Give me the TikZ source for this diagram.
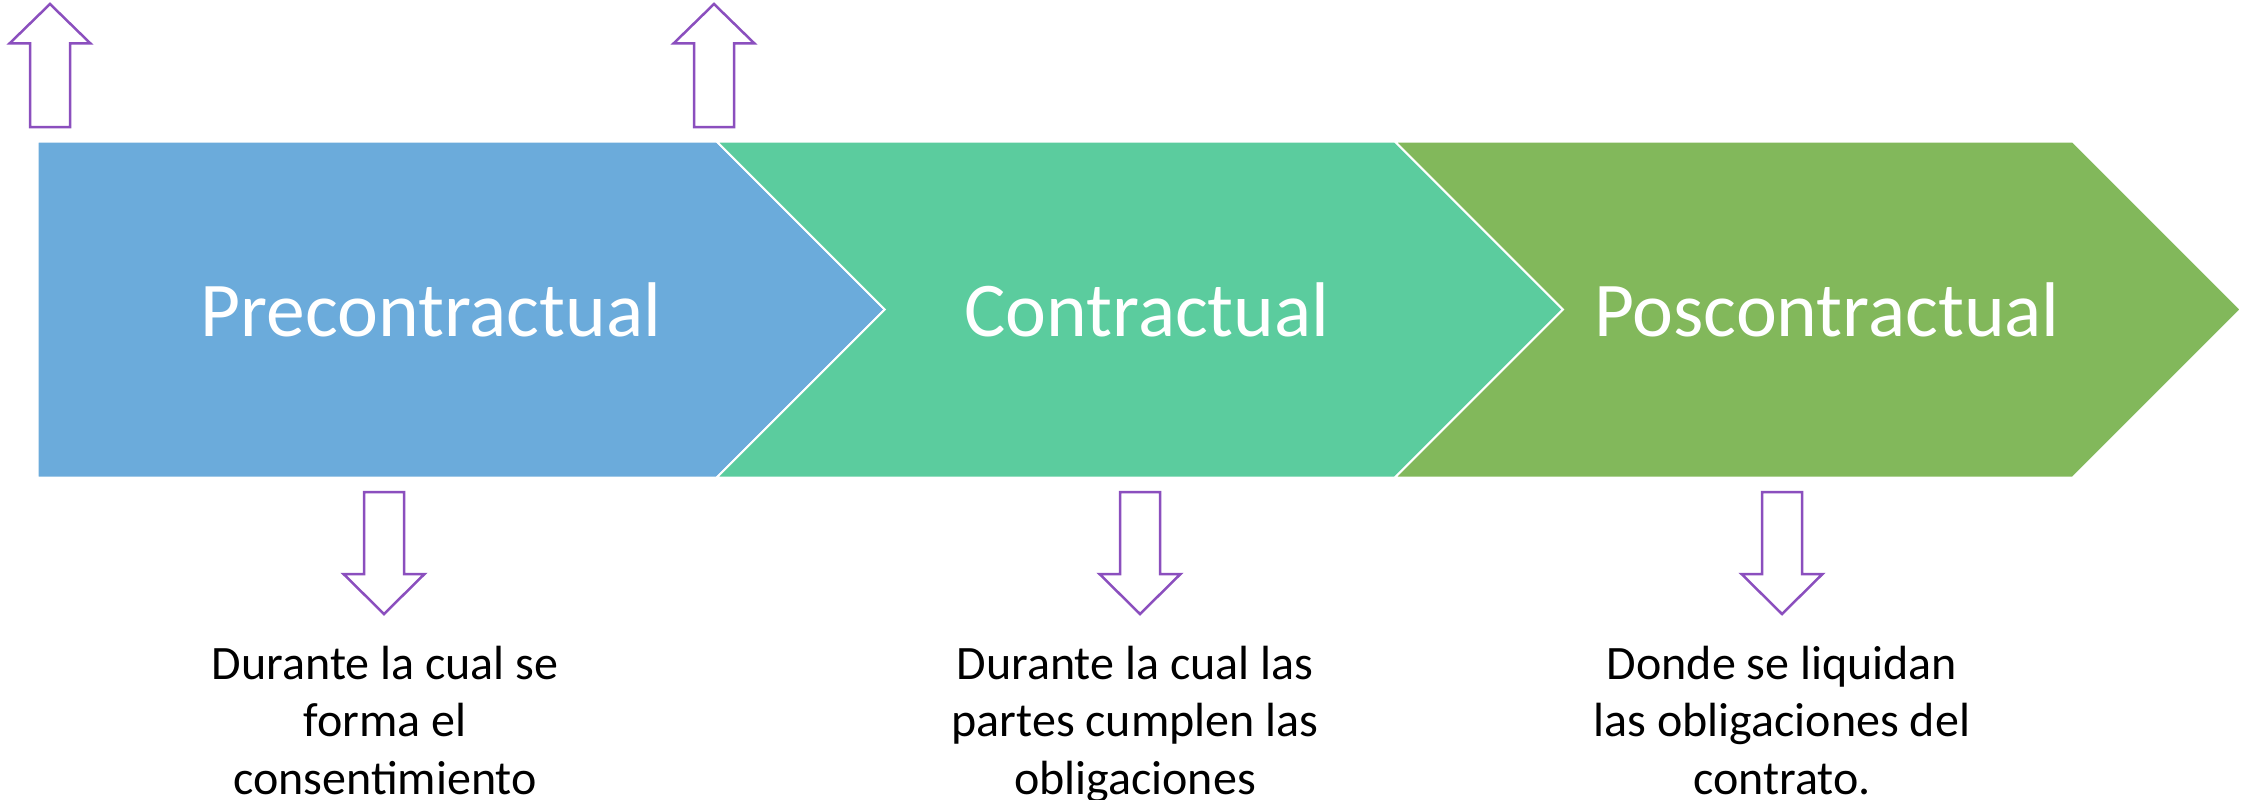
\documentclass[tikz,border=0pt]{standalone}
\usepackage{fontspec}
\setmainfont{Carlito}
\definecolor{cblue}{HTML}{6BABDB}
\definecolor{cgreen}{HTML}{5BCC9E}
\definecolor{colive}{HTML}{82B85B}
\definecolor{cpurple}{HTML}{8B4FBE}
\tikzset{
  phase/.style={draw=white, line width=2pt, line join=miter},
  blockarrow/.style={draw=cpurple, fill=white, line width=2.5pt, line join=miter},
  phaselabel/.style={text=white, font=\fontsize{77.5}{93}\selectfont, anchor=base, inner sep=0pt},
  desc/.style={text=black, font=\fontsize{48}{57.5}\selectfont, align=center, anchor=base, inner sep=0pt}
}
\begin{document}
\begin{tikzpicture}[x=1pt, y=-1pt]
\useasboundingbox (0,0) rectangle (2259,800);
% phases
\path[phase, fill=cblue] (37.5,141.5) -- (716.7,141.5) -- (884.7,309.5) -- (716.7,477.5) -- (37.5,477.5) -- cycle;
\path[phase, fill=cgreen] (716.7,141.5) -- (1395,141.5) -- (1563,309.5) -- (1395,477.5) -- (716.7,477.5) -- (884.7,309.5) -- cycle;
\path[phase, fill=colive] (1395,141.5) -- (2072.7,141.5) -- (2240.7,309.5) -- (2072.7,477.5) -- (1395,477.5) -- (1563,309.5) -- cycle;
\node[phaselabel] (p1) at (431,336) {Precontractual};
\node[phaselabel] (p2) at (1147,336) {Contractual};
\node[phaselabel] (p3) at (1827,336) {Poscontractual};
% up arrows
\foreach \cx in {50,714}{
  \path[blockarrow] (\cx,4) -- (\cx+40.5,43.5) -- (\cx+20,43.5) -- (\cx+20,127) -- (\cx-20,127) -- (\cx-20,43.5) -- (\cx-40.5,43.5) -- cycle;
}
% down arrows
\foreach \cx in {384,1140,1782}{
  \path[blockarrow] (\cx,614) -- (\cx+40.5,574) -- (\cx+20,574) -- (\cx+20,492) -- (\cx-20,492) -- (\cx-20,574) -- (\cx-40.5,574) -- cycle;
}
% descriptions (anchor = baseline of last line)
\node[desc] (d1) at (385,794) {Durante la cual se\\forma el\\consentimiento};
\node[desc] (d2) at (1135,794) {Durante la cual las\\partes cumplen las\\obligaciones};
\node[desc] (d3) at (1782,794) {Donde se liquidan\\las obligaciones del\\contrato.};
\end{tikzpicture}
\end{document}
